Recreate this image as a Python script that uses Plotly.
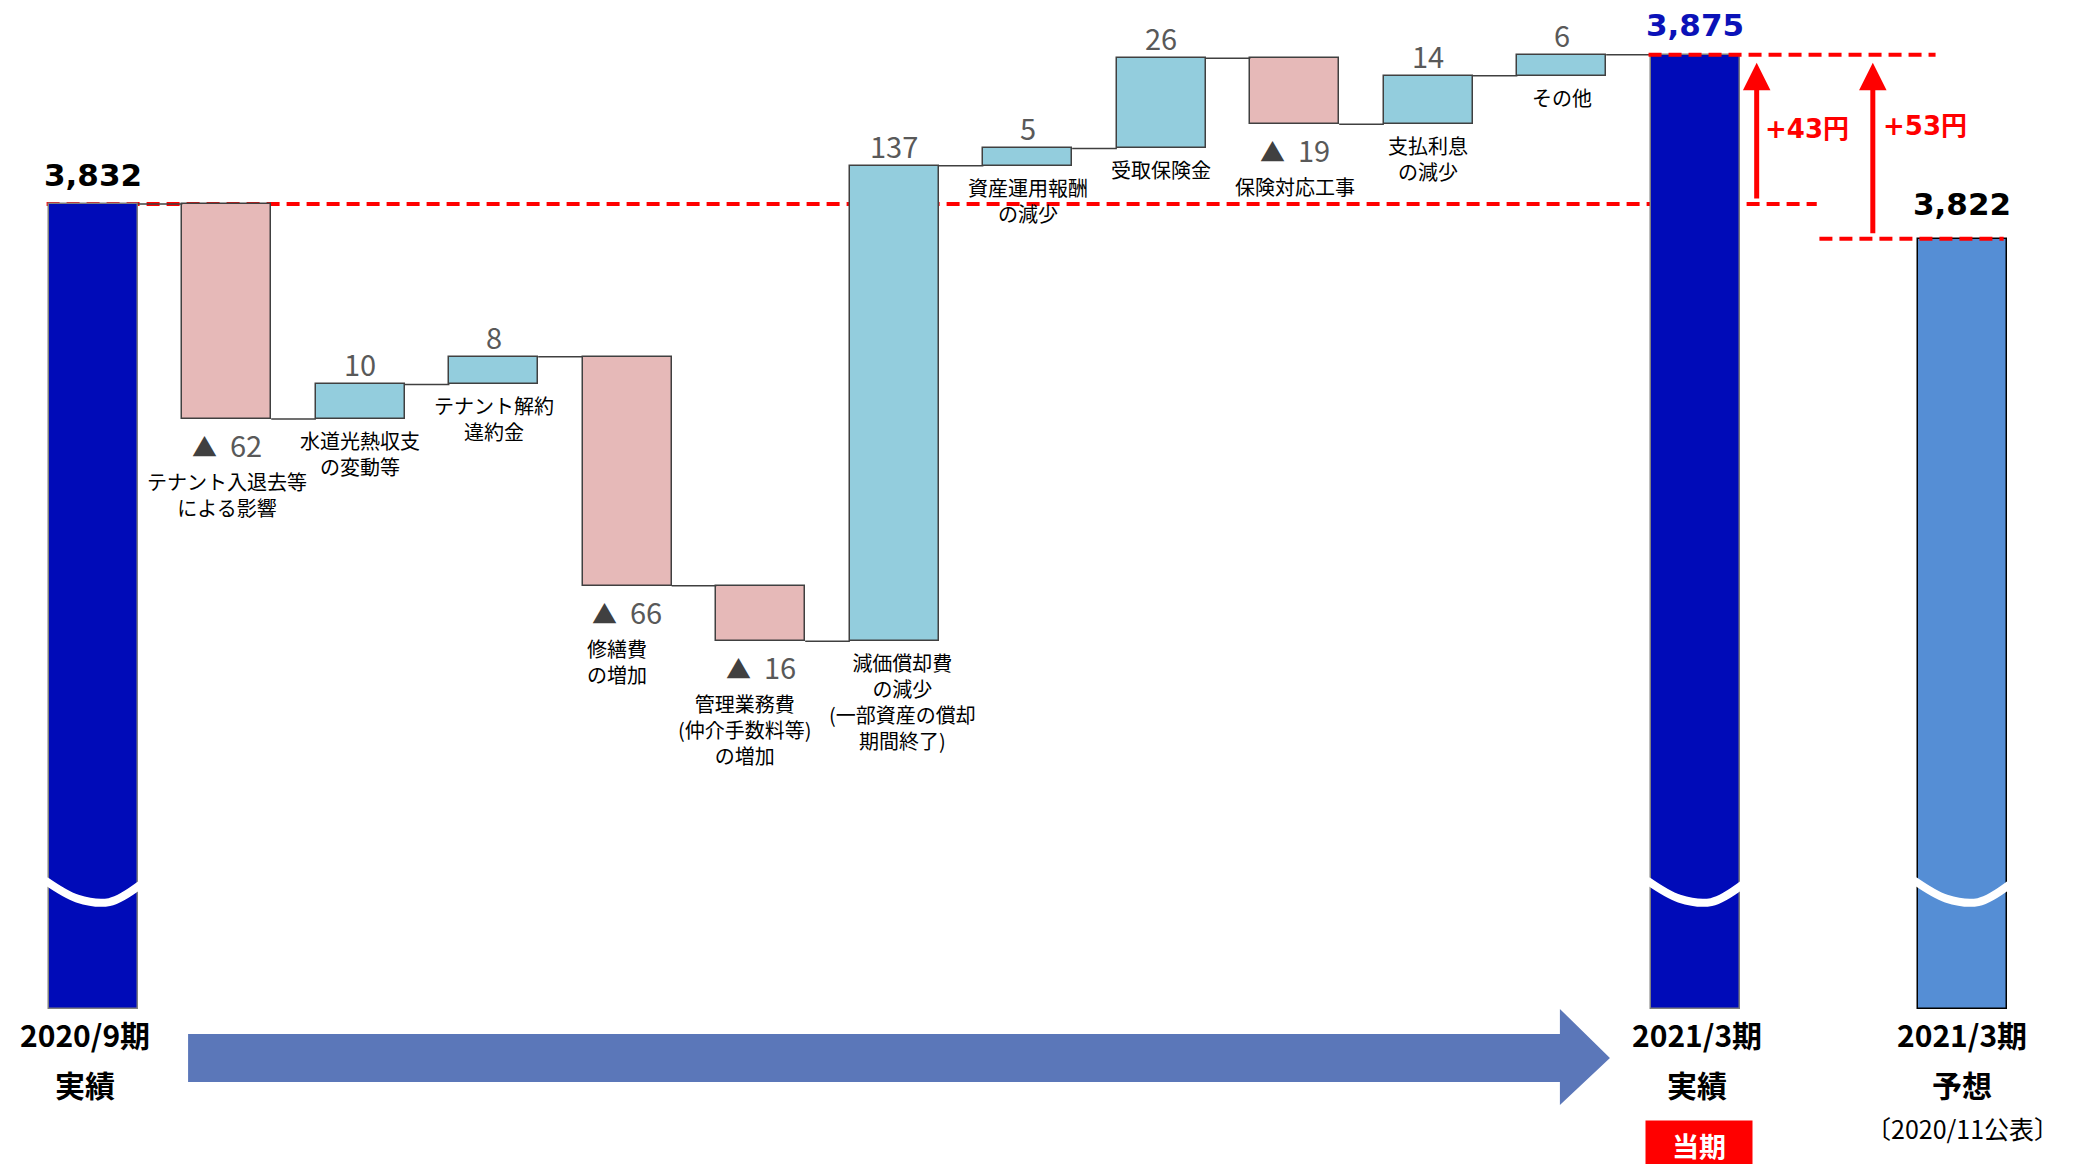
import plotly.graph_objects as go

# ---------------- data ----------------
start_label = ["2020/9期", "実績"]
actual_label = ["2021/3期", "実績"]
forecast_label = ["2021/3期", "予想", "〔2020/11公表〕"]
delta_labels = [
    "テナント入退去等<br>による影響",
    "水道光熱収支<br>の変動等",
    "テナント解約<br>違約金",
    "修繕費<br>の増加",
    "管理業務費<br>(仲介手数料等)<br>の増加",
    "減価償却費<br>の減少<br>(一部資産の償却<br>期間終了)",
    "資産運用報酬<br>の減少",
    "受取保険金",
    "保険対応工事",
    "支払利息<br>の減少",
    "その他",
]
start_value = 3832
deltas = [-62, 10, 8, -66, -16, 137, 5, 26, -19, 14, 6]
actual_value = 3875
forecast_value = 3822
axis_base = 3600          # broken axis bottom
diff_actual_prev = "+43円"
diff_actual_forecast = "+53円"

# ---------------- styles ----------------
C_MAIN = "#000BB8"
C_FCST = "#558ED5"
C_UP = "#93CDDD"
C_DOWN = "#E6B9B8"
C_EDGE = "#404040"
C_RED = "#FF0000"
C_VAL = "#595959"
JP = "Noto Sans CJK JP"
NUM_BOLD = "DejaVu Sans, Noto Sans CJK JP"
W = 0.665
RED_DASH = dict(color=C_RED, width=4, dash="13px,7px")
label_xshift = [0, 0, 0, -10, -16, 8, 0, 0, 0, 0, 0]
bottom_xshift = [-8, 2, 0]

# positions
x_start = 0
x_deltas = list(range(1, len(deltas) + 1))
x_actual = len(deltas) + 1
x_fcst = x_actual + 2

bx, by, bbase, bcol, blcol = [], [], [], [], []
bx.append(x_start); bbase.append(axis_base); by.append(start_value - axis_base)
bcol.append(C_MAIN); blcol.append("#7F7F7F")
running = start_value
levels = [start_value]
for x, d in zip(x_deltas, deltas):
    lo = min(running, running + d)
    bx.append(x); bbase.append(lo); by.append(abs(d))
    bcol.append(C_UP if d > 0 else C_DOWN); blcol.append(C_EDGE)
    running += d
    levels.append(running)
bx.append(x_actual); bbase.append(axis_base); by.append(actual_value - axis_base)
bcol.append(C_MAIN); blcol.append("#7F7F7F")
bx.append(x_fcst); bbase.append(axis_base); by.append(forecast_value - axis_base)
bcol.append(C_FCST); blcol.append("#000000")

fig = go.Figure()

# red dashed reference line at start value (behind bars)
fig.add_shape(type="line", x0=x_start - 0.35, x1=x_actual + 0.91, y0=start_value, y1=start_value,
              line=RED_DASH, layer="below")

fig.add_trace(go.Bar(x=bx, y=by, base=bbase, width=W,
                     marker=dict(color=bcol, line=dict(color=blcol, width=1.5)),
                     hoverinfo="skip", showlegend=False))

# connectors
cx, cy = [], []
for i, lvl in enumerate(levels):
    xa = bx[i] + W / 2
    xb = bx[i + 1] - W / 2
    cx += [xa, xb, None]
    cy += [lvl, lvl, None]
fig.add_trace(go.Scatter(x=cx, y=cy, mode="lines", line=dict(color=C_EDGE, width=1.5),
                         hoverinfo="skip", showlegend=False))

# broken-axis waves
brk = 3634
for xc in [x_start, x_actual, x_fcst]:
    fig.add_trace(go.Scatter(
        x=[xc - 0.36, xc - 0.12, xc + 0.12, xc + 0.36],
        y=[brk + 3.0, brk - 2.2, brk - 3.2, brk + 2.0],
        mode="lines", line=dict(color="white", width=8, shape="spline"),
        hoverinfo="skip", showlegend=False))

# other red dashed lines
fig.add_shape(type="line", x0=x_actual - 0.35, x1=x_actual + 1.8, y0=actual_value, y1=actual_value,
              line=RED_DASH)
fig.add_shape(type="line", x0=x_actual + 0.93, x1=x_fcst + 0.31, y0=forecast_value, y1=forecast_value,
              line=RED_DASH)

ann = []
# totals labels
ann.append(dict(x=x_start, y=start_value, text=f"<b>{start_value:,}</b>", yshift=29,
                font=dict(family=NUM_BOLD, size=31, color="#000000")))
ann.append(dict(x=x_actual, y=actual_value, text=f"<b>{actual_value:,}</b>", yshift=30,
                font=dict(family=NUM_BOLD, size=31, color="#0B12B8")))
ann.append(dict(x=x_fcst, y=forecast_value, text=f"<b>{forecast_value:,}</b>", yshift=35,
                font=dict(family=NUM_BOLD, size=31, color="#000000")))

# delta labels
prev = start_value
for x, d, lab, xs in zip(x_deltas, deltas, delta_labels, label_xshift):
    top = max(prev, prev + d)
    bot = min(prev, prev + d)
    if d > 0:
        ann.append(dict(x=x, y=top, text=str(d), yshift=21,
                        font=dict(family=JP, size=29, color=C_VAL)))
        ann.append(dict(x=x, y=bot, text=lab, yanchor="top", yshift=-5, xshift=xs,
                        font=dict(family=JP, size=20, color="#000000")))
    else:
        ann.append(dict(x=x, y=bot,
                        text=f"<span style='font-size:25px;color:#404040'>▲</span>&nbsp; {abs(d)}",
                        yshift=-25, font=dict(family=JP, size=29, color=C_VAL)))
        ann.append(dict(x=x, y=bot, text=lab, yanchor="top", yshift=-46, xshift=xs,
                        font=dict(family=JP, size=20, color="#000000")))
    prev += d

# red arrows
ann.append(dict(x=x_actual + 0.46, y=actual_value, ax=x_actual + 0.46, ay=start_value,
                axref="x", ayref="y", showarrow=True, arrowhead=2, arrowsize=1.1,
                arrowwidth=5, arrowcolor=C_RED, standoff=8, startstandoff=4, text=""))
ann.append(dict(x=x_actual + 1.33, y=actual_value, ax=x_actual + 1.33, ay=forecast_value,
                axref="x", ayref="y", showarrow=True, arrowhead=2, arrowsize=1.1,
                arrowwidth=5, arrowcolor=C_RED, standoff=8, startstandoff=4, text=""))
ann.append(dict(x=x_actual + 0.84, y=(actual_value + start_value) / 2, text=f"<b>{diff_actual_prev}</b>",
                font=dict(family=NUM_BOLD, size=26, color=C_RED)))
ann.append(dict(x=x_actual + 1.72, y=(actual_value + start_value) / 2, text=f"<b>{diff_actual_forecast}</b>",
                yshift=3, font=dict(family=NUM_BOLD, size=26, color=C_RED)))

# bottom labels
for xc, labs, xs in zip([x_start, x_actual, x_fcst], [start_label, actual_label, forecast_label], bottom_xshift):
    ann.append(dict(x=xc, xref="x", y=1 - 1034 / 1164, yref="paper", text=f"<b>{labs[0]}</b>",
                    xshift=xs, font=dict(family=JP, size=30, color="#000000")))
    ann.append(dict(x=xc, xref="x", y=1 - 1084 / 1164, yref="paper", text=f"<b>{labs[1]}</b>",
                    xshift=xs, font=dict(family=JP, size=30, color="#000000")))
    if len(labs) > 2:
        ann.append(dict(x=xc, xref="x", y=1 - 1128 / 1164, yref="paper", text=labs[2],
                        font=dict(family=JP, size=25, color="#000000")))
ann.append(dict(x=x_actual, xref="x", y=1 - 1120 / 1164, yref="paper", yanchor="top",
                text="<b>当期</b>", bgcolor=C_RED, width=104, height=46, xshift=4,
                font=dict(family=JP, size=27, color="white")))

for a in ann:
    a.setdefault("showarrow", False)
    a.setdefault("xref", "x")
    a.setdefault("yref", "y")
    a.setdefault("xanchor", "center")
    a.setdefault("yanchor", "middle")
fig.update_layout(annotations=ann)

# big bottom arrow (paper coords)
fig.add_shape(type="path", xref="paper", yref="paper",
              path="M 0.0906 0.1117 L 0.7514 0.1117 L 0.7514 0.1332 L 0.7755 0.0911 "
                   "L 0.7514 0.0507 L 0.7514 0.0704 L 0.0906 0.0704 Z",
              fillcolor="#5B77B9", line=dict(width=0))

fig.update_layout(
    width=2076, height=1164,
    margin=dict(l=0, r=0, t=0, b=0),
    paper_bgcolor="white", plot_bgcolor="white",
    xaxis=dict(range=[-0.699, 14.852], visible=False, fixedrange=True),
    yaxis=dict(range=[3555.3, 3890.8], visible=False, fixedrange=True),
    bargap=0, showlegend=False,
)

fig.write_html("out.html")
